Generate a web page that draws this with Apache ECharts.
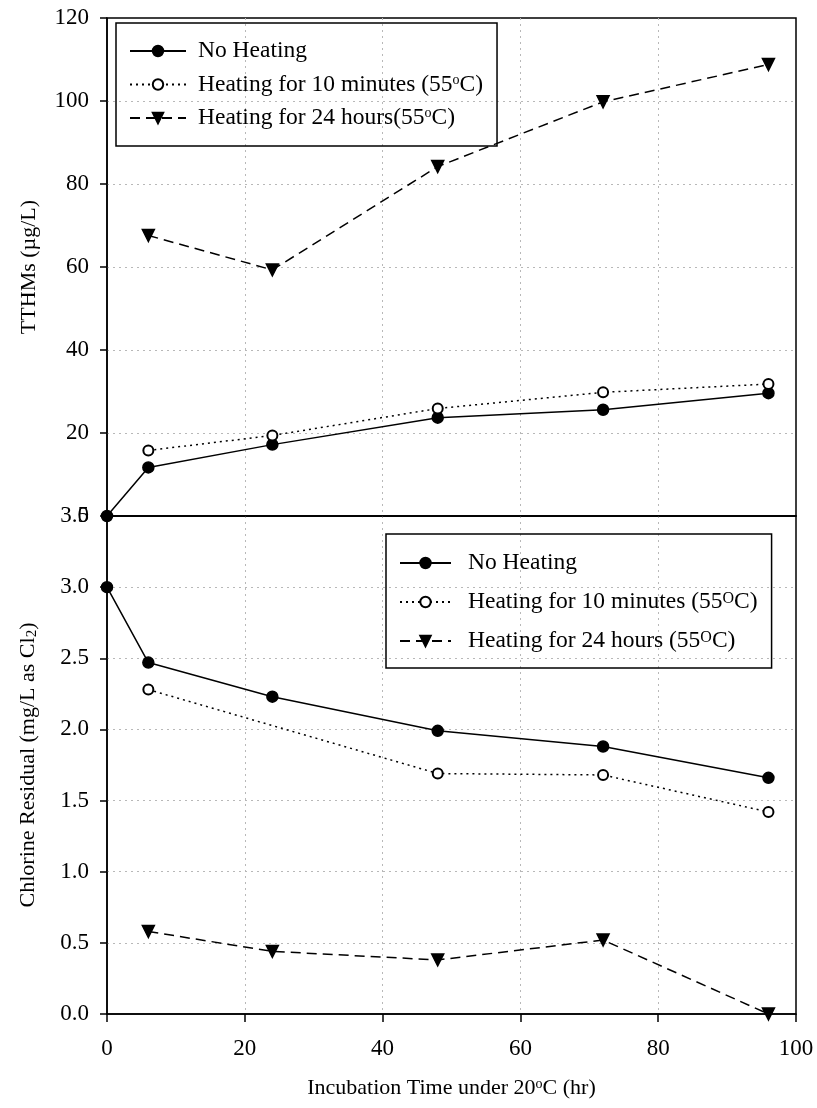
<!DOCTYPE html>
<html>
<head>
<meta charset="utf-8">
<script src="https://cdn.jsdelivr.net/npm/echarts@6/dist/echarts.min.js"></script>
<style>
  html, body { margin: 0; padding: 0; background: #fff; }
  #chart { width: 817px; height: 1108px; }
</style>
</head>
<body>
<div id="chart"></div>
<script>
// incubation time (hr)
const hours = [0, 6, 24, 48, 72, 96]
const xTicks = [0, 20, 40, 60, 80, 100]

// TTHMs (ug/L)
const tthmNoHeat = [0, 11.7, 17.2, 23.7, 25.6, 29.6]
const tthmHeat10 = [null, 15.8, 19.4, 25.9, 29.8, 31.8]
const tthmHeat24 = [null, 67.6, 59.3, 84.2, 99.8, 108.8]

// chlorine residual (mg/L as Cl2)
const clNoHeat = [3.0, 2.47, 2.23, 1.99, 1.88, 1.66]
const clHeat10 = [null, 2.28, null, 1.69, 1.68, 1.42]
const clHeat24 = [null, 0.58, 0.44, 0.38, 0.52, 0.0]

const seriesNames = ['No Heating', 'Heating for 10 minutes', 'Heating for 24 hours']

const FONT = 'Liberation Serif'
const gridLine = { show: true, showMinLine: false, showMaxLine: false, lineStyle: { color: '#b8b8b8', type: [2, 4], width: 1 } }
const blackLine = { show: true, lineStyle: { color: '#000', width: 1.5 } }

const pairs = (vals) => hours.map((h, i) => [h, vals[i]]).filter(p => p[1] != null)

const makeSeries = (idx, vals, xi) => {
  const base = {
    name: seriesNames[idx],
    type: 'line',
    xAxisIndex: xi,
    yAxisIndex: xi,
    data: pairs(vals),
    clip: false,
    connectNulls: true,
    itemStyle: { color: '#000', borderColor: '#000', borderWidth: 1.5 },
    lineStyle: { color: '#000', width: 1.5, type: 'solid' }
  }
  if (idx === 0) {
    base.symbol = 'circle'
    base.symbolSize = 11
    base.z = 3
  } else if (idx === 1) {
    base.symbol = 'emptyCircle'
    base.symbolSize = 10
    base.lineStyle.type = [2, 4]
    base.z = 4
  } else {
    base.symbol = 'triangle'
    base.symbolRotate = 180
    base.symbolSize = 12
    base.lineStyle.type = [10, 6]
  }
  return base
}

const supRich = (size, lh) => ({
  s: { fontSize: size, fontFamily: FONT, color: '#000', verticalAlign: 'top', lineHeight: lh }
})

const chart = echarts.init(document.getElementById('chart'))
chart.setOption({
  animation: false,
  backgroundColor: '#fff',
  textStyle: { fontFamily: FONT, color: '#000' },
  grid: [
    { left: 107, right: 21, top: 18, height: 498, show: true, borderColor: '#000', borderWidth: 1.5 },
    { left: 107, right: 21, top: 516, height: 498, show: true, borderColor: '#000', borderWidth: 1.5 }
  ],
  xAxis: [
    {
      type: 'value', gridIndex: 0, min: 0, max: 100, interval: 20,
      axisLine: blackLine, axisTick: { show: false }, axisLabel: { show: false },
      splitLine: gridLine
    },
    {
      type: 'value', gridIndex: 1, min: 0, max: 100, interval: 20,
      axisLine: blackLine,
      axisTick: { show: true, inside: false, length: 8, lineStyle: { color: '#000', width: 1.5 } },
      axisLabel: { fontSize: 23, fontFamily: FONT, color: '#000', margin: 23 },
      splitLine: gridLine,
      name: 'Incubation Time under 20{s|o}C (hr)',
      nameLocation: 'middle',
      nameGap: 63,
      nameTextStyle: { fontSize: 22, fontFamily: FONT, color: '#000', rich: supRich(14, 12) }
    }
  ],
  yAxis: [
    {
      type: 'value', gridIndex: 0, min: 0, max: 120, interval: 20,
      axisLine: blackLine,
      axisTick: { show: true, length: 7, lineStyle: { color: '#000', width: 1.5 } },
      axisLabel: { fontSize: 23, fontFamily: FONT, color: '#000', margin: 18 },
      splitLine: gridLine,
      name: 'TTHMs (\u00b5g/L)',
      nameLocation: 'middle',
      nameGap: 67,
      nameTextStyle: { fontSize: 22, fontFamily: FONT, color: '#000' }
    },
    {
      type: 'value', gridIndex: 1, min: 0, max: 3.5, interval: 0.5,
      axisLine: blackLine,
      axisTick: { show: true, length: 7, lineStyle: { color: '#000', width: 1.5 } },
      axisLabel: { fontSize: 23, fontFamily: FONT, color: '#000', margin: 18, formatter: v => v.toFixed(1) },
      splitLine: gridLine,
      name: 'Chlorine Residual (mg/L as Cl{b|2})',
      nameLocation: 'middle',
      nameGap: 67,
      nameTextStyle: {
        fontSize: 22, fontFamily: FONT, color: '#000',
        rich: { b: { fontSize: 15, fontFamily: FONT, color: '#000', verticalAlign: 'bottom', padding: [8, 0, 0, 0] } }
      }
    }
  ],
  legend: [
    {
      left: 116, top: 23, orient: 'vertical',
      data: seriesNames,
      itemWidth: 56, itemHeight: 13, itemGap: 9.5,
      padding: [16, 14, 16, 13],
      borderColor: '#000', borderWidth: 1.5,
      selectedMode: false,
      textStyle: { fontSize: 23.5, fontFamily: FONT, color: '#000', lineHeight: 23, padding: [0, 0, 0, 7], rich: supRich(14, 10) },
      formatter: name => {
        if (name === seriesNames[1]) return 'Heating for 10 minutes (55{s|o}C)'
        if (name === seriesNames[2]) return 'Heating for 24 hours(55{s|o}C)'
        return name
      }
    },
    {
      left: 386, top: 534, orient: 'vertical',
      data: seriesNames,
      itemWidth: 51, itemHeight: 13, itemGap: 15,
      padding: [17, 14, 15, 13],
      borderColor: '#000', borderWidth: 1.5,
      selectedMode: false,
      textStyle: { fontSize: 23.5, fontFamily: FONT, color: '#000', lineHeight: 23, padding: [0, 0, 0, 12], rich: supRich(16, 12) },
      formatter: name => {
        if (name === seriesNames[1]) return 'Heating for 10 minutes (55{s|O}C)'
        if (name === seriesNames[2]) return 'Heating for 24 hours (55{s|O}C)'
        return name
      }
    }
  ],
  series: [
    makeSeries(2, tthmHeat24, 0),
    makeSeries(1, tthmHeat10, 0),
    makeSeries(0, tthmNoHeat, 0),
    makeSeries(2, clHeat24, 1),
    makeSeries(1, clHeat10, 1),
    makeSeries(0, clNoHeat, 1)
  ]
})
</script>
</body>
</html>
